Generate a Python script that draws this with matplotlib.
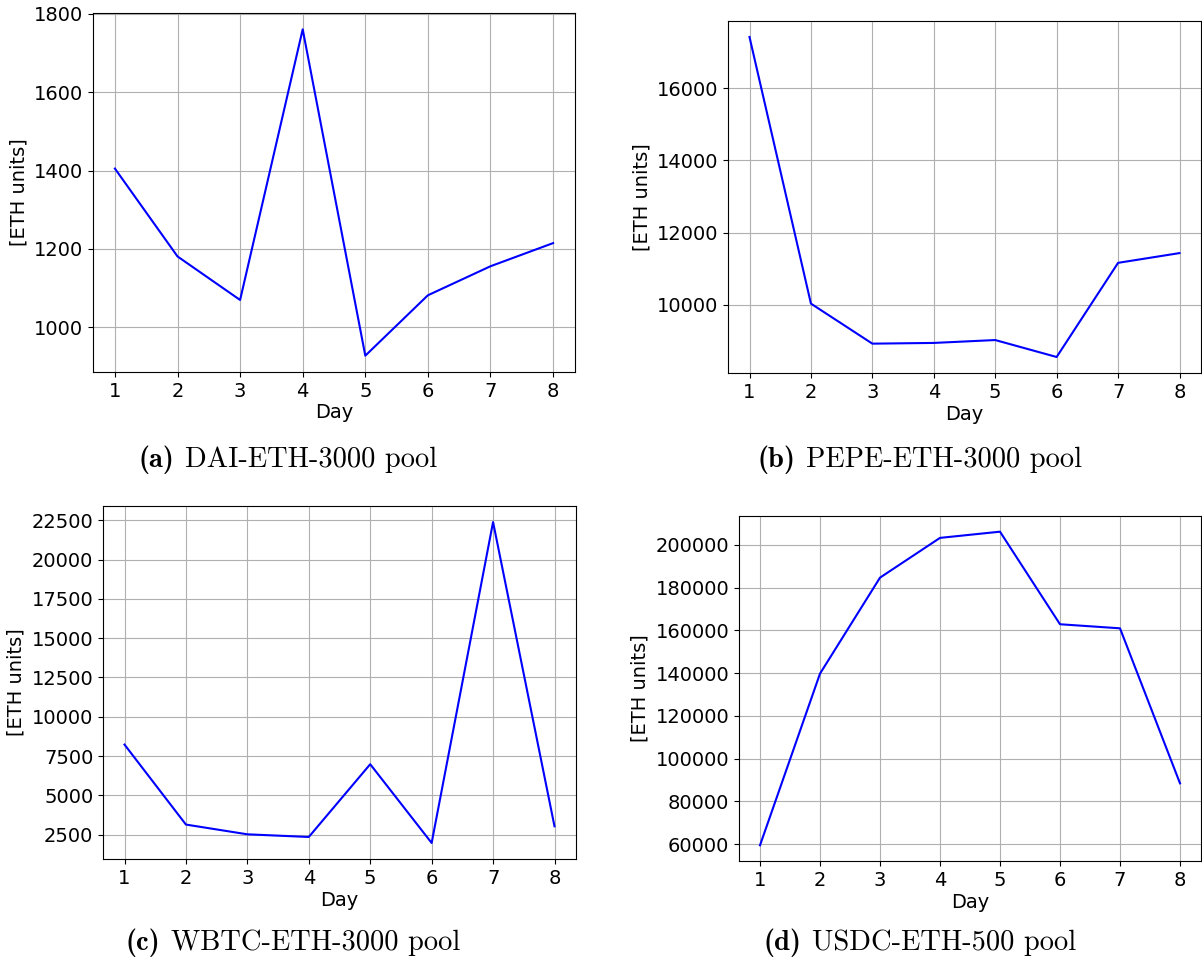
import matplotlib
matplotlib.use("Agg")
import matplotlib.pyplot as plt
from matplotlib.ticker import MultipleLocator

days = [1, 2, 3, 4, 5, 6, 7, 8]

# valores por pool (ETH units)
dai_eth = [1405, 1181, 1070, 1760, 928, 1082, 1156, 1215]
pepe_eth = [17420, 10030, 8920, 8940, 9020, 8550, 11160, 11430]
wbtc_eth = [8230, 3140, 2520, 2350, 6980, 1970, 22390, 3030]
usdc_eth = [59500, 139800, 184700, 203300, 206200, 162900, 161000, 88500]

tags = ["(a)", "(b)", "(c)", "(d)"]
pools = ["DAI-ETH-3000 pool", "PEPE-ETH-3000 pool",
         "WBTC-ETH-3000 pool", "USDC-ETH-500 pool"]
ystep = [None, None, None, 20000]

W, H = 1202, 965
fig = plt.figure(figsize=(W / 100, H / 100), dpi=100)

def px_axes(l, t, r, b):
    return fig.add_axes([l / W, 1 - b / H, (r - l) / W, (b - t) / H])

# cajas de ejes en pixeles (izq, arriba, der, abajo)
boxes = [(93, 13, 575, 372),
         (728, 21, 1201, 373),
         (103, 506, 576, 859),
         (739, 516, 1201, 861)]
series = [dai_eth, pepe_eth, wbtc_eth, usdc_eth]
# centro del caption y baseline
cap_pos = [(288, 467), (920, 467), (293, 950), (920, 950)]

renderer = fig.canvas.get_renderer()

for box, vals, tag, pool, step, (cx, cy) in zip(boxes, series, tags, pools, ystep, cap_pos):
    ax = px_axes(*box)
    ax.plot(days, vals, color='blue', linewidth=1.5)
    ax.grid(True)
    ax.set_xticks(days)
    if step:
        ax.yaxis.set_major_locator(MultipleLocator(step))
    ax.tick_params(labelsize=14)
    ax.set_xlabel("Day", fontsize=14, labelpad=2)
    ax.set_ylabel("[ETH units]", fontsize=14)

    # caption: "(x)" en negrita + nombre del pool, centrado
    t1 = fig.text(0, 1 - cy / H, tag, family='cmb10', fontsize=20.5, va='baseline')
    t2 = fig.text(0, 1 - cy / H, pool, family='cmr10', fontsize=20.5, va='baseline')
    w1 = t1.get_window_extent(renderer).width
    w2 = t2.get_window_extent(renderer).width
    gap = 11
    x0 = cx - (w1 + gap + w2) / 2
    t1.set_x(x0 / W)
    t2.set_x((x0 + w1 + gap) / W)

fig.savefig("out.png", dpi=100)
